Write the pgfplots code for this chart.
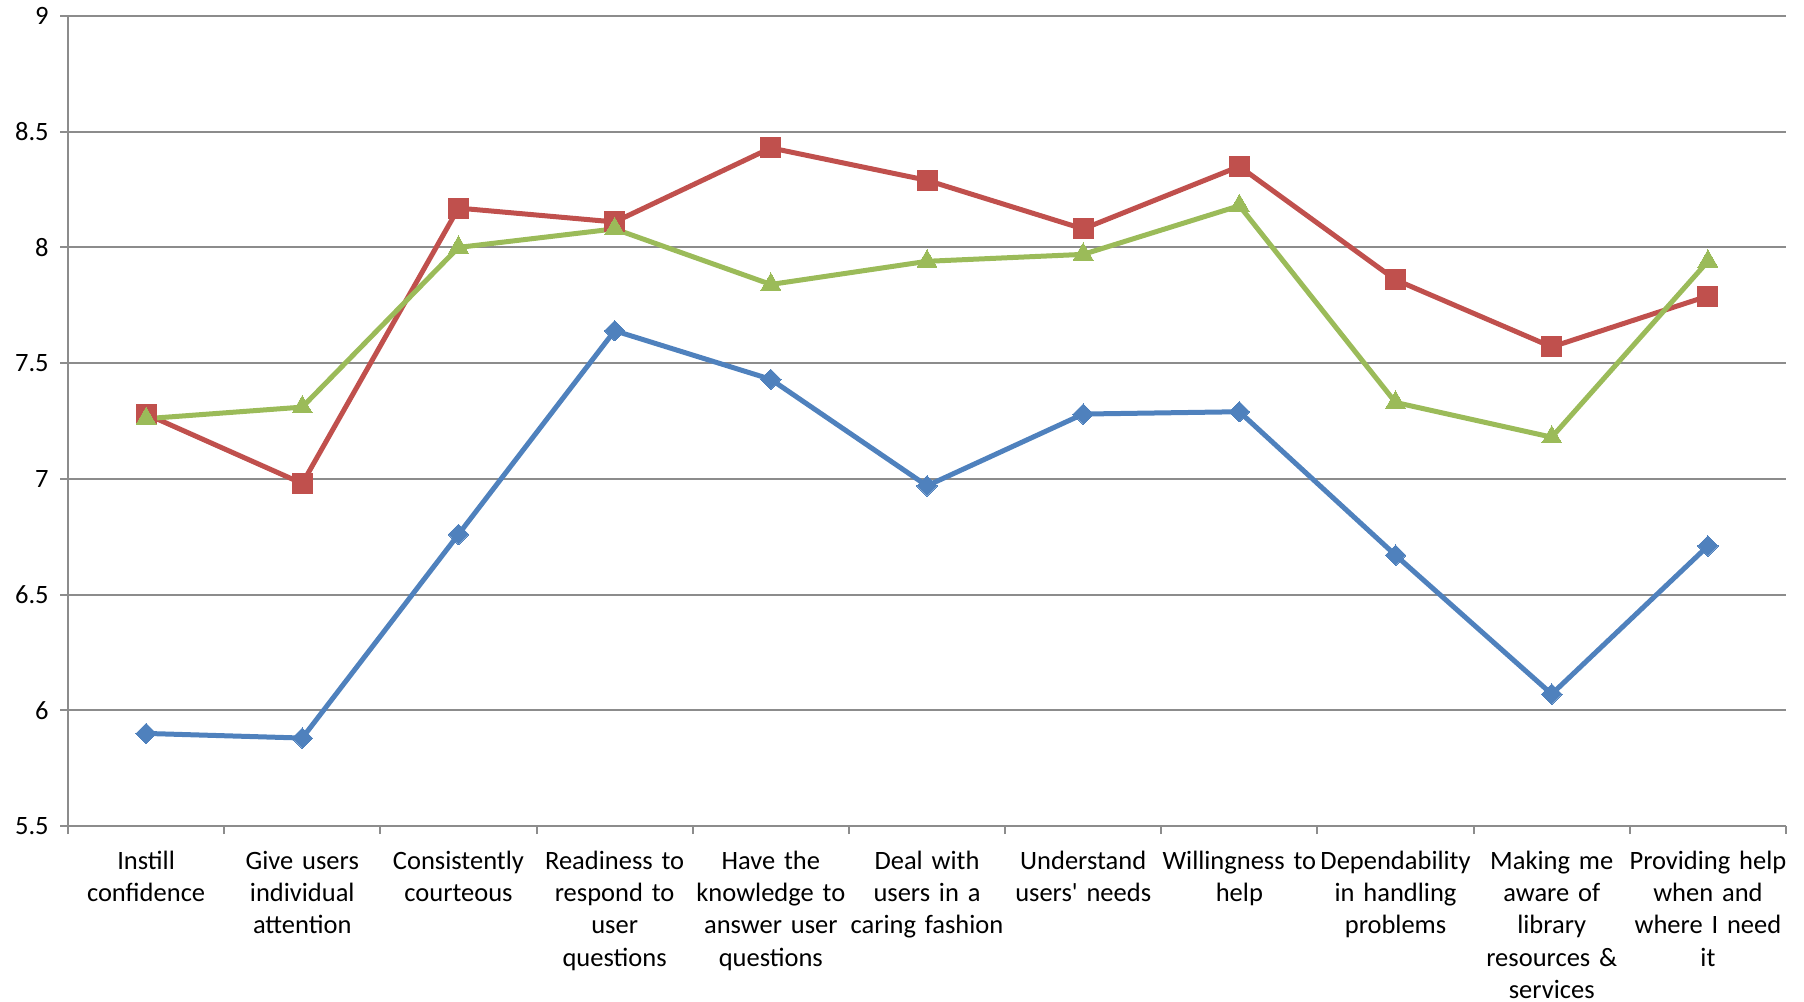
\documentclass[border=0pt]{standalone}
\usepackage{fontspec}
\setmainfont{Carlito}
\usepackage{pgfplots}
\pgfplotsset{compat=1.18}

\definecolor{serA}{HTML}{4F81BD}
\definecolor{serB}{HTML}{C0504D}
\definecolor{serC}{HTML}{9BBB59}
\definecolor{gridgray}{HTML}{8C8C8C}

\begin{document}
\begin{tikzpicture}
\begin{axis}[
  name=ax,
  scale only axis,
  width=687.2pt, height=324pt,
  xmin=-0.5, xmax=10.5,
  ymin=5.5, ymax=9,
  axis x line*=bottom,
  axis y line*=left,
  axis line style={draw=gridgray, line width=0.8pt},
  xtick={0,...,10},
  minor xtick={-0.5,0.5,...,10.5},
  major x tick style={draw=none},
  minor x tick style={draw=gridgray, line width=0.8pt},
  ytick={5.5,6,...,9},
  major y tick style={draw=gridgray, line width=0.8pt},
  tick align=outside,
  major tick length=3.2pt,
  minor tick length=3.2pt,
  ymajorgrids,
  grid style={draw=gridgray, line width=0.8pt},
  /pgf/number format/assume math mode=true,
  yticklabel style={font=\fontsize{10.6}{12.9}\selectfont, xshift=-1pt},
  xticklabel style={font=\fontsize{10.6}{12.9}\selectfont, text width=66pt, align=center, yshift=-3.3pt},
  xticklabels={
    {Instill\\confidence},
    {Give users\\individual\\attention},
    {Consistently\\courteous},
    {Readiness to\\respond to\\user\\questions},
    {Have the\\knowledge to\\answer user\\questions},
    {Deal with\\users in a\\caring fashion},
    {Understand\\users\textquotesingle{} needs},
    {Willingness to\\help},
    {Dependability\\in handling\\problems},
    {Making me\\aware of\\library\\resources \&\\services},
    {Providing help\\when and\\where I need\\it}
  },
  every axis plot/.append style={line width=2pt},
  clip=false,
]
% red series
\addplot[color=serB, mark=square*, mark size=4pt, mark options={solid, fill=serB, draw=serB, line width=0pt}]
coordinates {(0,7.28) (1,6.98) (2,8.17) (3,8.11) (4,8.43) (5,8.29) (6,8.08) (7,8.35) (8,7.86) (9,7.57) (10,7.79)};
% green series
\addplot[color=serC, mark=triangle*, mark size=4.6pt, mark options={solid, fill=serC, draw=serC, line width=0pt}]
coordinates {(0,7.26) (1,7.31) (2,8.00) (3,8.08) (4,7.84) (5,7.94) (6,7.97) (7,8.18) (8,7.33) (9,7.18) (10,7.94)};
% blue series
\addplot[color=serA, mark=square*, mark size=2.9pt, mark options={solid, rotate=45, fill=serA, draw=serA, line width=0pt}]
coordinates {(0,5.90) (1,5.88) (2,6.76) (3,7.64) (4,7.43) (5,6.97) (6,7.28) (7,7.29) (8,6.67) (9,6.07) (10,6.71)};
\end{axis}
\pgfresetboundingbox
\path[use as bounding box] ([shift={(-27.2pt,-70.4pt)}]ax.south west) rectangle ([shift={(7.2pt,6.4pt)}]ax.north east);
\end{tikzpicture}
\end{document}
